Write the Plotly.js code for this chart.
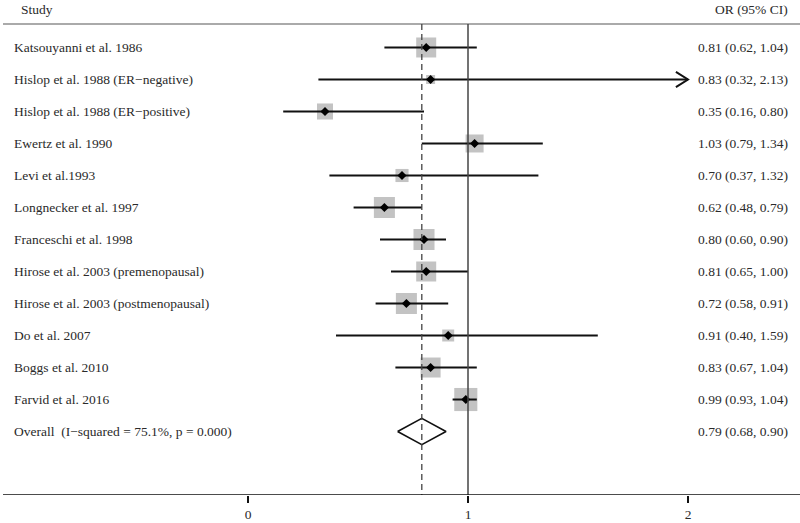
<!DOCTYPE html>
<html>
<head>
<meta charset="utf-8">
<script src="https://cdn.plot.ly/plotly-3.0.1.min.js"></script>
<style>
  html, body { margin: 0; padding: 0; background: #fff; }
  #chart { width: 800px; height: 523px; }
</style>
</head>
<body>
<div id="chart"></div>
<script>
const studies = [
  'Katsouyanni et al. 1986',
  'Hislop et al. 1988 (ER\u2212negative)',
  'Hislop et al. 1988 (ER\u2212positive)',
  'Ewertz et al. 1990',
  'Levi et al.1993',
  'Longnecker et al. 1997',
  'Franceschi et al. 1998',
  'Hirose et al. 2003 (premenopausal)',
  'Hirose et al. 2003 (postmenopausal)',
  'Do et al. 2007',
  'Boggs et al. 2010',
  'Farvid et al. 2016',
];
const orValues = [0.81, 0.83, 0.35, 1.03, 0.70, 0.62, 0.80, 0.81, 0.72, 0.91, 0.83, 0.99];
const ciLow = [0.62, 0.32, 0.16, 0.79, 0.37, 0.48, 0.60, 0.65, 0.58, 0.40, 0.67, 0.93];
const ciHigh = [1.04, 2.13, 0.80, 1.34, 1.32, 0.79, 0.90, 1.00, 0.91, 1.59, 1.04, 1.04];
const weights = [8.4, 1.7, 5.4, 6.8, 3.6, 9.3, 9.3, 8.4, 9.3, 3.0, 8.4, 11.2];

const overallLabel = 'Overall  (I\u2212squared = 75.1%, p = 0.000)';
const overallOR = 0.79;
const overallLow = 0.68;
const overallHigh = 0.90;

const xTicks = [0, 1, 2];
const X_MAX = 2;    // CI drawn clipped here, with an arrow

const FONT = 'Liberation Serif, Times New Roman, serif';
const TEXT_COLOR = '#2a2a2a';
const FONT_SIZE = 13.5;
const W = 800;

const rows = studies.map((s, i) => i + 1);
const overallRow = studies.length + 1;

function fmt(o, l, h) {
  return o.toFixed(2) + ' (' + l.toFixed(2) + ', ' + h.toFixed(2) + ')';
}

// CI segments
const ciX = [], ciY = [];
const arrowX = [], arrowY = [];
studies.forEach((s, i) => {
  const hi = Math.min(ciHigh[i], X_MAX);
  ciX.push(ciLow[i], hi, null);
  ciY.push(rows[i], rows[i], null);
  if (ciHigh[i] > X_MAX) {
    arrowX.push(hi - 0.055, hi, hi - 0.055, null);
    arrowY.push(rows[i] - 0.24, rows[i], rows[i] + 0.24, null);
  }
});

const traces = [
  {
    x: orValues, y: rows, type: 'scatter', mode: 'markers',
    marker: { symbol: 'square', color: '#aaaaaa', size: weights.map(w => 6.9 * Math.sqrt(w)), line: { width: 0 } },
    hoverinfo: 'skip',
  },
  {
    x: ciX, y: ciY, type: 'scatter', mode: 'lines',
    line: { color: '#111', width: 2 }, hoverinfo: 'skip',
  },
  {
    x: arrowX, y: arrowY, type: 'scatter', mode: 'lines',
    line: { color: '#111', width: 2 }, hoverinfo: 'skip',
  },
  {
    x: orValues, y: rows, type: 'scatter', mode: 'markers',
    marker: { symbol: 'diamond', color: '#000', size: 7 }, hoverinfo: 'skip',
  },
  {
    x: [overallLow, overallOR, overallHigh, overallOR, overallLow],
    y: [overallRow, overallRow - 0.41, overallRow, overallRow + 0.41, overallRow],
    type: 'scatter', mode: 'lines',
    line: { color: '#111', width: 1.6 }, hoverinfo: 'skip',
  },
];

const annotations = [];
function txt(text, xpx, y, anchor) {
  annotations.push({
    text: text, xref: 'paper', x: xpx / W, yref: 'y', y: y,
    xanchor: anchor, yanchor: 'middle', showarrow: false,
    font: { family: FONT, size: FONT_SIZE, color: TEXT_COLOR },
  });
}
txt('Study', 19, -0.2, 'left');
txt('OR (95% CI)', 790, -0.2, 'right');
studies.forEach((s, i) => {
  txt(s, 12, rows[i], 'left');
  txt(fmt(orValues[i], ciLow[i], ciHigh[i]), 790, rows[i], 'right');
});
txt(overallLabel, 12, overallRow, 'left');
txt(fmt(overallOR, overallLow, overallHigh), 790, overallRow, 'right');

const HEADER_Y = 0.266;
const BOTTOM_Y = 14.984;

const shapes = [
  { type: 'line', xref: 'paper', x0: 3 / W, x1: 1, yref: 'y', y0: HEADER_Y, y1: HEADER_Y,
    line: { color: '#aaa', width: 2 } },
  { type: 'line', xref: 'x', x0: 1, x1: 1, yref: 'y', y0: HEADER_Y, y1: BOTTOM_Y,
    line: { color: '#444', width: 1.5 } },
  { type: 'line', xref: 'x', x0: overallOR, x1: overallOR, yref: 'y', y0: HEADER_Y, y1: BOTTOM_Y,
    line: { color: '#444', width: 1.3, dash: '6px,4px' } },
  { type: 'line', xref: 'paper', x0: 3 / W, x1: 1, yref: 'y', y0: BOTTOM_Y, y1: BOTTOM_Y,
    line: { color: '#111', width: 1.5 } },
];

const layout = {
  width: 800, height: 523,
  margin: { l: 0, r: 0, t: 0, b: 28 },
  paper_bgcolor: '#fff', plot_bgcolor: '#fff',
  showlegend: false,
  xaxis: {
    range: [-248 / 220, (800 - 248) / 220],
    tickvals: xTicks, ticktext: xTicks.map(String),
    ticks: 'outside', ticklen: 7, tickwidth: 1.5, tickcolor: '#111',
    showgrid: false, zeroline: false, showline: false,
    tickfont: { family: FONT, size: FONT_SIZE, color: TEXT_COLOR },
    fixedrange: true,
  },
  yaxis: {
    range: [BOTTOM_Y, -0.484],
    showticklabels: false, ticks: '', showgrid: false, zeroline: false, showline: false,
    fixedrange: true,
  },
  shapes: shapes,
  annotations: annotations,
};

Plotly.newPlot('chart', traces, layout, { displayModeBar: false, staticPlot: true });
</script>
</body>
</html>
